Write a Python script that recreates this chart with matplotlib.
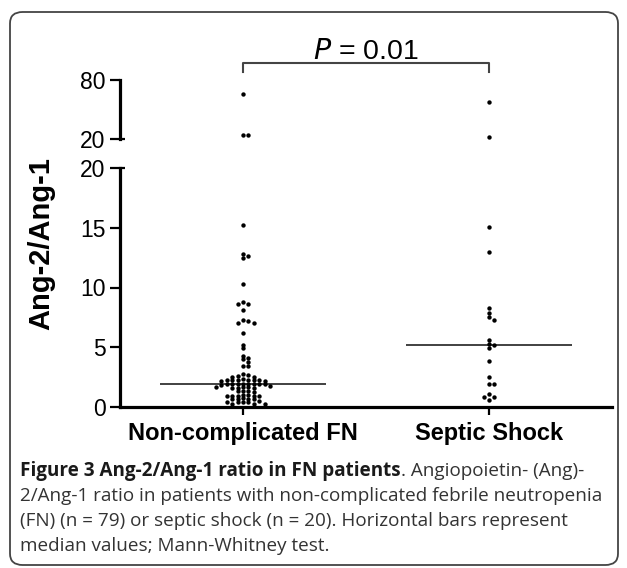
import numpy as np
import matplotlib
matplotlib.use("Agg")
import matplotlib.pyplot as plt
from matplotlib.patches import FancyBboxPatch
from matplotlib.transforms import blended_transform_factory

# ---------------- data ----------------
categories = ["Non-complicated FN", "Septic Shock"]

fn_values = [
    65.8, 24.1, 24.1,
    15.2, 12.8, 12.6, 12.45, 10.3,
    8.75, 8.6, 8.6, 8.15, 7.25, 7.2, 7.05, 7.05, 6.2,
    5.2, 4.9, 4.3, 4.1, 4.0, 3.8, 3.45, 3.45, 2.75, 2.7,
    2.6, 2.55, 2.5,
    2.35, 2.3, 2.3, 2.28, 2.25, 2.25, 2.22, 2.2, 2.2,
    1.95, 1.94, 1.93, 1.92, 1.92, 1.91, 1.9, 1.89, 1.88,
    1.72, 1.7, 1.68, 1.65, 1.62, 1.6, 1.58,
    1.35, 1.32, 1.3, 1.27,
    1.0, 0.98, 0.96, 0.95, 0.93, 0.91, 0.89,
    0.72, 0.7, 0.68, 0.66, 0.64,
    0.47, 0.45, 0.43, 0.41, 0.4,
    0.27, 0.25, 0.23,
]
shock_values = [
    57.6, 22.0,
    15.1, 13.0, 8.3, 7.9, 7.5, 7.3,
    5.6, 5.25, 5.2, 4.95, 3.85, 2.5,
    1.9, 1.9, 1.1, 0.85, 0.85, 0.6,
]
groups = [fn_values, shock_values]

upper_ticks = [20, 80]
lower_ticks = [0, 5, 10, 15, 20]
break_value = 20
ylabel = "Ang-2/Ang-1"
p_value = " = 0.01"

caption_bold = "Figure 3 Ang-2/Ang-1 ratio in FN patients"
caption_lines = [
    ". Angiopoietin- (Ang)-",
    "2/Ang-1 ratio in patients with non-complicated febrile neutropenia",
    "(FN) (n = 79) or septic shock (n = 20). Horizontal bars represent",
    "median values; Mann-Whitney test.",
]

# ---------------- figure ----------------
W, H = 627, 568
plt.rcParams['font.family'] = ['Liberation Sans', 'DejaVu Sans']
fig = plt.figure(figsize=(W / 100, H / 100), dpi=100)


def rect(x0, ytop, w, h):
    return [x0 / W, (H - ytop - h) / H, w / W, h / H]


# outer rounded frame
frame = FancyBboxPatch((10 / W, 3 / H), 608 / W, 553 / H,
                       boxstyle="round,pad=0,rounding_size=0.02",
                       transform=fig.transFigure, facecolor='none',
                       edgecolor='#444444', linewidth=1.3, zorder=0)
fig.patches.append(frame)

ax_lo = fig.add_axes(rect(120, 168, 492, 239))
ax_hi = fig.add_axes(rect(120, 80, 492, 59))
for ax in (ax_lo, ax_hi):
    ax.set_facecolor('none')
    ax.set_xlim(-0.5, 1.5)
    for s in ('top', 'right'):
        ax.spines[s].set_visible(False)
    ax.spines['left'].set_linewidth(2.3)
    ax.spines['bottom'].set_linewidth(2.3)
    ax.tick_params(axis='y', length=7.5, width=1.6, pad=3, labelsize=16.5)

ax_lo.set_ylim(0, 20)
ax_lo.set_yticks(lower_ticks)
ax_lo.set_xticks(range(len(categories)))
ax_lo.set_xticklabels(categories, fontsize=17, fontweight='bold')
ax_lo.tick_params(axis='x', length=6, width=1.6, pad=5)

ax_hi.set_ylim(20, 80)
ax_hi.set_yticks(upper_ticks)
ax_hi.spines['bottom'].set_visible(False)
ax_hi.set_xticks([])

# break caps (short stubs to the right of the spine at 20)
for ax in (ax_lo, ax_hi):
    tr = blended_transform_factory(ax.transAxes, ax.transData)
    ax.plot([0, 0.011], [break_value, break_value], color='black', lw=1.6,
            transform=tr, clip_on=False, solid_capstyle='butt')


def grid_offsets(values, ax, spacing_px=5.4, min_dy_px=3.2):
    vals = np.asarray(values, float)
    ypix = ax.transData.transform(np.column_stack([np.zeros(len(vals)), vals]))[:, 1]
    ppu = ax.transData.transform([[1, 0]])[0, 0] - ax.transData.transform([[0, 0]])[0, 0]
    order = np.argsort(-vals, kind='stable')
    cand = [0]
    for k in range(1, 15):
        cand += [k, -k]
    cols = np.zeros(len(vals))
    placed = []
    for i in order:
        for c in cand:
            if all(not (pc == c and abs(py - ypix[i]) < min_dy_px) for pc, py in placed):
                break
        placed.append((c, ypix[i]))
        cols[i] = c
    return cols * spacing_px / ppu


for gi, vals in enumerate(groups):
    vals = np.asarray(vals, float)
    lo = vals[vals <= break_value]
    hi = vals[vals > break_value]
    xo = grid_offsets(lo, ax_lo)
    ax_lo.scatter(gi + xo, lo, s=10, color='black', linewidths=0, zorder=3, clip_on=False)
    if len(hi):
        xh = grid_offsets(hi, ax_hi)
        ax_hi.scatter(gi + xh, hi, s=10, color='black', linewidths=0, zorder=3, clip_on=False)
    med = np.median(vals)
    ax_lo.hlines(med, gi - 0.337, gi + 0.337, color='#333333', lw=1.3, zorder=2)

# significance bracket
trb = blended_transform_factory(ax_hi.transData, ax_hi.transAxes)
ax_hi.plot([0, 0, 1, 1], [1.136, 1.288, 1.288, 1.136], color='#444444', lw=1.5,
           transform=trb, clip_on=False)
ax_hi.text(0.5, 1.36, r"$\it{P}$" + p_value, transform=trb, ha='center', va='baseline',
           fontsize=20.5, color='black')

# y label
fig.text(41 / W, (H - 244) / H, ylabel, rotation=90, ha='center', va='center',
         fontsize=21, fontweight='bold')

# caption
cap_font = ['Open Sans', 'DejaVu Sans']
cap_size = 13.6
x0 = 20 / W
baselines = [476, 501, 526, 551]
t_bold = fig.text(x0, (H - baselines[0]) / H, caption_bold, fontsize=cap_size,
                  fontweight='bold', family=cap_font, color='#1a1a1a', va='baseline')
renderer = fig.canvas.get_renderer()
bb = t_bold.get_window_extent(renderer)
fig.text(bb.x1 / W, (H - baselines[0]) / H, caption_lines[0], fontsize=cap_size,
         family=cap_font, color='#333333', va='baseline')
for line, yb in zip(caption_lines[1:], baselines[1:]):
    fig.text(x0, (H - yb) / H, line, fontsize=cap_size, family=cap_font,
             color='#333333', va='baseline')

fig.savefig("out.png", dpi=100)
